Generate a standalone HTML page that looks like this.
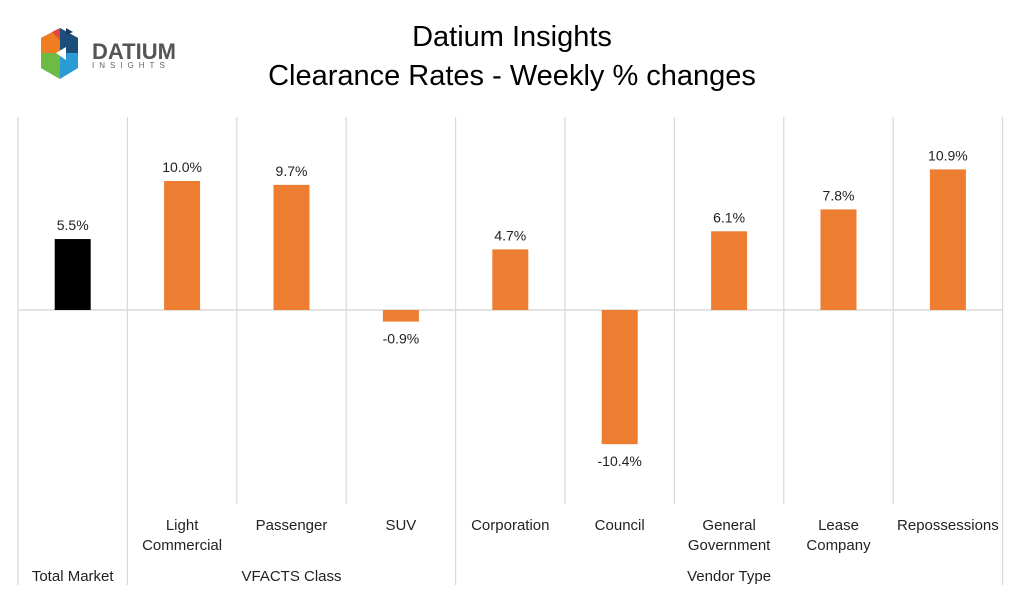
<!DOCTYPE html>
<html><head><meta charset="utf-8"><style>
body{margin:0;background:#fff;width:1024px;height:595px;overflow:hidden;font-family:"Liberation Sans",sans-serif}
svg{display:block}
</style></head><body>
<svg id="c" width="1024" height="595">
<text x="512" y="46" text-anchor="middle" font-size="29" fill="#000">Datium Insights</text>
<text x="512" y="85" text-anchor="middle" font-size="29" fill="#000">Clearance Rates - Weekly % changes</text>
<g>
<polygon points="60,28 78,38 78,68 60,79 41,68 41,38" fill="#2b9bd6"/>
<polygon points="60,28 41,38 41,53 60,53" fill="#f07d22"/>
<polygon points="41,53 60,53 60,79 41,68" fill="#6dbb45"/>
<polygon points="60,28 78,38 78,53 60,53" fill="#1b4f7a"/>
<polygon points="52,32 60,28 60,40" fill="#e8433e"/>
<polygon points="66,28 73,32 66,35" fill="#1b3a5c"/>
<polygon points="56,53 66,47 66,60" fill="#fff"/>
<text x="92" y="59" font-size="22" font-weight="bold" fill="#555">DATIUM</text>
<text x="92" y="68" font-size="8" fill="#666" letter-spacing="5">INSIGHTS</text>
</g>
<g id="grid"></g><g id="bars"></g><g id="labels"></g>
</svg>
<script>
const categories=["Total Market","Light|Commercial","Passenger","SUV","Corporation","Council","General|Government","Lease|Company","Repossessions"];
const values=[5.5,10.0,9.7,-0.9,4.7,-10.4,6.1,7.8,10.9];
const valueLabels=["5.5%","10.0%","9.7%","-0.9%","4.7%","-10.4%","6.1%","7.8%","10.9%"];
const colors=["#000000","#ed7d31","#ed7d31","#ed7d31","#ed7d31","#ed7d31","#ed7d31","#ed7d31","#ed7d31"];
const groups=["Total Market","VFACTS Class","Vendor Type"];
const groupSpans=[[0,1],[1,4],[4,9]];
const NS="http://www.w3.org/2000/svg";
const x0=18,cw=109.4,zeroY=310,pxPer=12.9;
const xs=i=>x0+i*cw;
const ys=v=>zeroY-v*pxPer;
function mk(t,a,p){const e=document.createElementNS(NS,t);for(const k in a)e.setAttribute(k,a[k]);p.appendChild(e);return e;}
const grid=document.getElementById('grid'),bars=document.getElementById('bars'),labels=document.getElementById('labels');
const z=mk('line',{x1:x0,x2:xs(9),y1:zeroY,y2:zeroY,stroke:'#d9d9d9','stroke-width':1.5},grid);


for(let i=0;i<=9;i++){
 const full=groupSpans.some(s=>s[0]===i||s[1]===i);
 const l=mk('line',{x1:xs(i),x2:xs(i),y1:117,y2:full?585:504,stroke:'#d9d9d9','stroke-width':1.2},grid);
 
 
}
categories.forEach((c,i)=>{
 const cx=xs(i)+cw/2,v=values[i],y=ys(v);
 const r=mk('rect',{x:cx-18,y:Math.min(y,zeroY),width:36,height:Math.abs(zeroY-y),fill:colors[i]},bars);
 
 
 const t=mk('text',{x:cx,y:v>=0?y-9:y+22,'text-anchor':'middle','font-size':14,fill:'#222'},labels);
 t.textContent=valueLabels[i];
 
 
 if(i>0){
  c.split('|').forEach((ln,j)=>{
   const ct=mk('text',{x:cx,y:530+j*20,'text-anchor':'middle','font-size':15,fill:'#222'},labels);
   ct.textContent=ln;
   
   
  });
 }
});
groups.forEach((g,k)=>{
 const s=groupSpans[k];
 const gt=mk('text',{x:(xs(s[0])+xs(s[1]))/2,y:581,'text-anchor':'middle','font-size':15,fill:'#222'},labels);
 gt.textContent=g;
 
 
});
</script>
</body></html>
